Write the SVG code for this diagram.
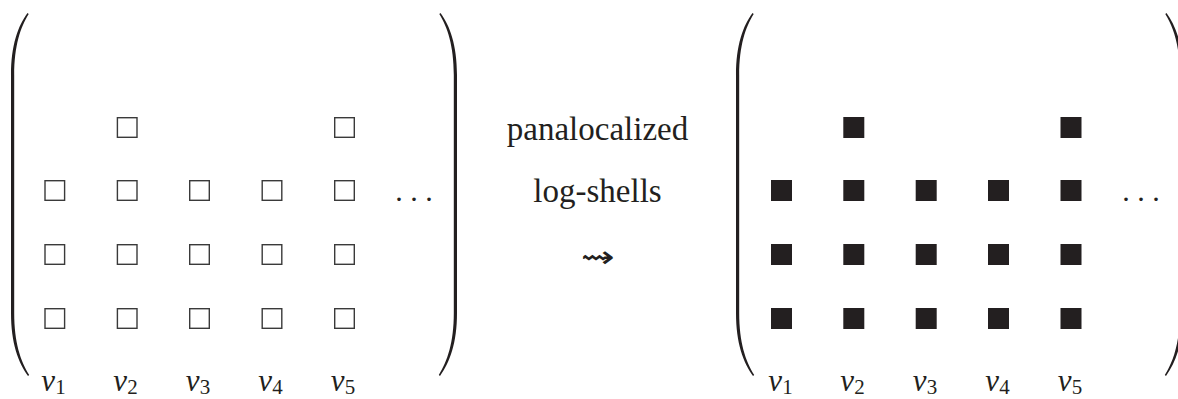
<svg xmlns="http://www.w3.org/2000/svg" xmlns:xlink="http://www.w3.org/1999/xlink" width="1178" height="399" viewBox="0 0 1178 399">
<style>
.open{fill:#fff;stroke:#3a3a3a;stroke-width:1.4}
.full{fill:#231f20;stroke:none}
.paren{fill:#231f20}
.lbl{font-family:"Liberation Serif",serif;font-size:33px;fill:#231f20}
.v{font-family:"Liberation Serif",serif;font-size:31px;font-style:italic;fill:#231f20}
.sub{font-style:normal;font-size:21px}
.dots{font-family:"Liberation Serif",serif;font-size:30px;fill:#231f20}
</style>
<defs>
<path id="paren" d="M16.5,13 C7,26 0,45 0,75 L0,313 C0,343 7,362 17,376 L18.2,375 C9.5,361 3.2,342 3.2,313 L3.2,75 C3.2,46 9.5,27 17.7,14 Z"/>
<rect id="sqo" class="open" x="0.7" y="0.7" width="19.6" height="19.6"/>
<rect id="sqf" class="full" x="0" y="0" width="21" height="21"/>
</defs>
<rect width="1178" height="399" fill="#fff"/>
<g id="left-matrix">
<use xlink:href="#paren" class="paren" transform="translate(11,0)"/>
<use xlink:href="#paren" class="paren" transform="translate(457,0) scale(-1,1)"/>
<use xlink:href="#sqo" x="116.7" y="117"/>
<use xlink:href="#sqo" x="334" y="117"/>
<use xlink:href="#sqo" x="44.3" y="180"/>
<use xlink:href="#sqo" x="116.7" y="180"/>
<use xlink:href="#sqo" x="189" y="180"/>
<use xlink:href="#sqo" x="261.5" y="180"/>
<use xlink:href="#sqo" x="334" y="180"/>
<use xlink:href="#sqo" x="44.3" y="244"/>
<use xlink:href="#sqo" x="116.7" y="244"/>
<use xlink:href="#sqo" x="189" y="244"/>
<use xlink:href="#sqo" x="261.5" y="244"/>
<use xlink:href="#sqo" x="334" y="244"/>
<use xlink:href="#sqo" x="44.3" y="308"/>
<use xlink:href="#sqo" x="116.7" y="308"/>
<use xlink:href="#sqo" x="189" y="308"/>
<use xlink:href="#sqo" x="261.5" y="308"/>
<use xlink:href="#sqo" x="334" y="308"/>
<text class="dots" x="414" y="201" text-anchor="middle">. . .</text>
<text class="v" x="53.5" y="391" text-anchor="middle">v<tspan class="sub" dy="3">1</tspan></text>
<text class="v" x="125.5" y="391" text-anchor="middle">v<tspan class="sub" dy="3">2</tspan></text>
<text class="v" x="198" y="391" text-anchor="middle">v<tspan class="sub" dy="3">3</tspan></text>
<text class="v" x="270.5" y="391" text-anchor="middle">v<tspan class="sub" dy="3">4</tspan></text>
<text class="v" x="343" y="391" text-anchor="middle">v<tspan class="sub" dy="3">5</tspan></text>
</g>
<g id="transition">
<text class="lbl" x="597.5" y="140" text-anchor="middle">panalocalized</text>
<text class="lbl" x="597.5" y="202" text-anchor="middle">log-shells</text>
<text x="0" y="0" text-anchor="middle" font-family="DejaVu Sans, sans-serif" font-size="30" fill="#231f20" transform="translate(597.5,267) scale(1.35,1)">⇝</text>
</g>
<g id="right-matrix">
<use xlink:href="#paren" class="paren" transform="translate(736,0)"/>
<use xlink:href="#paren" class="paren" transform="translate(1183,0) scale(-1,1)"/>
<use xlink:href="#sqf" x="843.3" y="117"/>
<use xlink:href="#sqf" x="1060.5" y="117"/>
<use xlink:href="#sqf" x="771" y="180"/>
<use xlink:href="#sqf" x="843.3" y="180"/>
<use xlink:href="#sqf" x="915.7" y="180"/>
<use xlink:href="#sqf" x="988" y="180"/>
<use xlink:href="#sqf" x="1060.5" y="180"/>
<use xlink:href="#sqf" x="771" y="244"/>
<use xlink:href="#sqf" x="843.3" y="244"/>
<use xlink:href="#sqf" x="915.7" y="244"/>
<use xlink:href="#sqf" x="988" y="244"/>
<use xlink:href="#sqf" x="1060.5" y="244"/>
<use xlink:href="#sqf" x="771" y="308"/>
<use xlink:href="#sqf" x="843.3" y="308"/>
<use xlink:href="#sqf" x="915.7" y="308"/>
<use xlink:href="#sqf" x="988" y="308"/>
<use xlink:href="#sqf" x="1060.5" y="308"/>
<text class="dots" x="1141" y="201" text-anchor="middle">. . .</text>
<text class="v" x="780.5" y="391" text-anchor="middle">v<tspan class="sub" dy="3">1</tspan></text>
<text class="v" x="852.5" y="391" text-anchor="middle">v<tspan class="sub" dy="3">2</tspan></text>
<text class="v" x="925" y="391" text-anchor="middle">v<tspan class="sub" dy="3">3</tspan></text>
<text class="v" x="997.5" y="391" text-anchor="middle">v<tspan class="sub" dy="3">4</tspan></text>
<text class="v" x="1070" y="391" text-anchor="middle">v<tspan class="sub" dy="3">5</tspan></text>
</g>
</svg>
